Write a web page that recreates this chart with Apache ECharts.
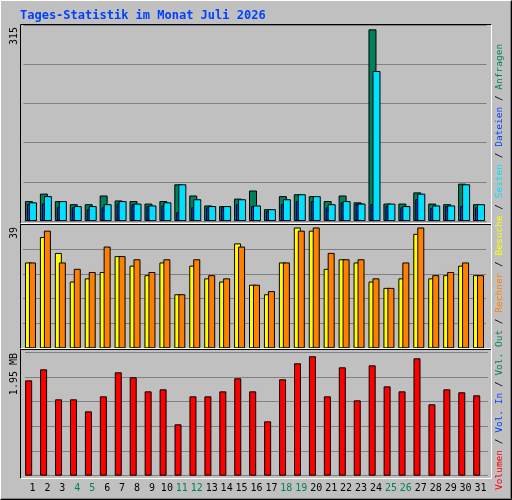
<!DOCTYPE html>
<html><head><meta charset="utf-8">
<script src="https://cdn.jsdelivr.net/npm/echarts@6/dist/echarts.min.js"></script>
<style>html,body{margin:0;padding:0;background:#c0c0c0}#c{width:512px;height:500px}</style>
</head><body><div id="c"></div>
<script>
const days = ['1','2','3','4','5','6','7','8','9','10','11','12','13','14','15','16','17','18','19','20','21','22','23','24','25','26','27','28','29','30','31'];
const weekend = ['4','5','11','12','18','19','25','26'];
const hits  = [32,44,32,27,27,41,33,32,28,32,59,41,25,24,36,49,19,40,43,40,32,41,30,308,28,28,46,28,27,60,27];
const files = [27,28,22,22,19,22,28,27,24,25,14,22,22,22,27,24,16,27,32,32,22,30,28,27,24,22,35,21,24,24,22];
const pages = [30,40,32,24,24,27,32,28,25,30,59,35,24,24,35,25,19,35,43,40,27,32,28,241,28,24,44,25,25,59,27];
const visits = [27,35,30,21,22,24,29,26,23,27,17,26,22,21,33,20,17,27,38,37,25,28,27,21,19,22,36,22,23,26,23];
const sites  = [27,37,27,25,24,32,29,28,24,28,17,28,23,22,32,20,18,27,37,38,30,28,28,22,19,27,38,23,24,27,23];
const volumeMB = [1.507,1.681,1.207,1.207,1.017,1.254,1.634,1.555,1.333,1.365,0.812,1.254,1.254,1.333,1.539,1.333,0.859,1.523,1.776,1.887,1.254,1.713,1.191,1.744,1.412,1.333,1.855,1.128,1.365,1.318,1.270];
const maxHits = 315, maxVisits = 39, maxVol = 1.95;

const chart = echarts.init(document.getElementById('c'));
const mono = 'DejaVu Sans Mono';
const B = {borderColor:'#000',borderWidth:1};
function xa(i, show){return {type:'category',data:days,gridIndex:i,axisLine:{show:false},axisTick:{show:false},
  axisLabel:{show:show,fontFamily:mono,fontSize:10,color:'#000',margin:8,interval:0,
   formatter:v=>weekend.includes(v)?'{w|'+v+'}':v,rich:{w:{color:'#00805C',fontFamily:mono,fontSize:10}}}};}
function ya(i,max){return {type:'value',gridIndex:i,min:0,max:max,interval:max/5,axisLabel:{show:false},axisLine:{show:false},axisTick:{show:false},
  splitLine:{show:true,lineStyle:{color:'#808080',width:1}}};}
const ln=(x1,y1,x2,y2,c)=>({type:'line',shape:{x1,y1,x2,y2},style:{stroke:c,lineWidth:1},z:100});
const rt=(x,y,text,align,extra)=>({type:'text',x,y,rotation:Math.PI/2,z:100,style:Object.assign({text,fontFamily:mono,fontSize:10,fill:'#000',align:align,verticalAlign:'middle'},extra||{})});
const LF=9.5;
chart.setOption({
  animation:false,
  backgroundColor:'#c0c0c0',
  grid:[
    {left:23.5,width:463,top:25,height:196},
    {left:23,width:463,top:224.3,height:124},
    {left:25,width:463,top:352.3,height:123.4}
  ],
  xAxis:[xa(0,false),xa(1,false),xa(2,true)],
  yAxis:[ya(0,maxHits),ya(1,maxVisits),ya(2,maxVol)],
  series:[
    {type:'bar',xAxisIndex:0,yAxisIndex:0,data:hits,barWidth:8,barGap:'-75%',itemStyle:Object.assign({color:'#00805C'},B)},
    {type:'bar',xAxisIndex:0,yAxisIndex:0,data:files,barWidth:8,barGap:'-75%',itemStyle:Object.assign({color:'#0040FF'},B)},
    {type:'bar',xAxisIndex:0,yAxisIndex:0,data:pages,barWidth:8,barGap:'-75%',itemStyle:Object.assign({color:'#00E0FF'},B)},
    {type:'bar',xAxisIndex:1,yAxisIndex:1,data:visits,barWidth:7,barGap:'-43%',itemStyle:Object.assign({color:'#FFFF00'},B)},
    {type:'bar',xAxisIndex:1,yAxisIndex:1,data:sites,barWidth:7,barGap:'-43%',itemStyle:Object.assign({color:'#FF8000'},B)},
    {type:'bar',xAxisIndex:2,yAxisIndex:2,data:volumeMB,barWidth:7,barGap:'0%',itemStyle:Object.assign({color:'#FF0000'},B)},
    {type:'bar',xAxisIndex:2,yAxisIndex:2,data:days.map(()=>null),barWidth:7.6,barGap:'0%'}
  ],
  graphic:[
    {type:'text',x:20,y:10,z:100,style:{text:'Tages-Statistik im Monat Juli 2026',fontFamily:mono,fontWeight:'bold',fontSize:12,fill:'#0040FF'}},
    ln(0.5,0.5,511.5,0.5,'#fff'),ln(0.5,0.5,0.5,499.5,'#fff'),
    ln(0.5,499.5,511.5,499.5,'#000'),ln(511.5,0.5,511.5,499.5,'#000'),
    ln(1.5,498.5,510.5,498.5,'#808080'),ln(510.5,1.5,510.5,498.5,'#808080'),
    ln(20.5,24.5,491.5,24.5,'#000'),ln(20.5,24.5,20.5,478.5,'#000'),
    ln(20.5,223.5,491.5,223.5,'#fff'),ln(20.5,224.5,491.5,224.5,'#000'),
    ln(20.5,348.5,491.5,348.5,'#fff'),ln(20.5,349.5,491.5,349.5,'#000'),
    ln(20.5,478.5,491.5,478.5,'#fff'),ln(491.5,24.5,491.5,478.5,'#fff'),
    rt(14,27,String(maxHits),'right'),
    rt(14,227,String(maxVisits),'right'),
    rt(14,353,'1.95 MB','right'),
    {type:'text',x:500,y:490,rotation:Math.PI/2,z:100,style:{
      text:'{r|Volumen} / {b|Vol. In} / {g|Vol. Out} / {o|Rechner} / {y|Besuche} / {c|Seiten} / {b|Dateien} / {g|Anfragen}',
      fontFamily:mono,fontSize:LF,fill:'#000',align:'left',verticalAlign:'middle',
      rich:{r:{fill:'#FF0000',fontFamily:mono,fontSize:LF},b:{fill:'#0040FF',fontFamily:mono,fontSize:LF},g:{fill:'#00805C',fontFamily:mono,fontSize:LF},
        o:{fill:'#FF8000',fontFamily:mono,fontSize:LF},y:{fill:'#FFFF00',fontFamily:mono,fontSize:LF},c:{fill:'#00E0FF',fontFamily:mono,fontSize:LF}}}}
  ]
});
</script></body></html>
